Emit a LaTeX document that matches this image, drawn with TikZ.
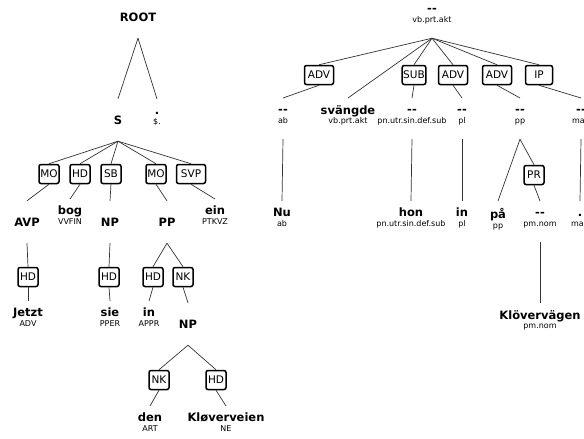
\documentclass[tikz,border=0pt]{standalone}
\usepackage{fontspec}
\setmainfont{DejaVu Sans}
\usepackage{tikz}
\usetikzlibrary{arrows.meta,shapes,arrows}

\newcommand{\wrd}[1]{{\fontsize{11.5}{13}\selectfont\bfseries\vphantom{bg}#1}}

\begin{document}
\begin{tikzpicture}[x=1pt,y=-1pt]
      \useasboundingbox (0,0) rectangle (584,439);
      % phrase labels
      \begin{scope}[every node/.style={inner sep=0pt,minimum height=42pt,font=\fontsize{11.5}{13}\selectfont\bfseries}]
        \node (root) at (138,17)  {ROOT};
        \node (s)    at (118,120) {S};
        \node (avp)  at (27,222)  {AVP};
        \node (np)   at (110,222) {NP};
        \node (pp)   at (167,222) {PP};
        \node (npb)  at (188,324) {NP};
      \end{scope}
      % words and tags
      \begin{scope}[every node/.style={anchor=north,align=center,inner xsep=0pt,inner ysep=7pt,text depth=8.5pt,font=\fontsize{8}{9.6}\selectfont}]
        \node (dot)   at (157,99)  {\wrd{.}\\\$.};
        \node (bog)   at (70,199)  {\wrd{bog}\\VVFIN};
        \node (ein)   at (215,199) {\wrd{ein}\\PTKVZ};
        \node (jetzt) at (28,301)  {\wrd{Jetzt}\\ADV};
        \node (sie)   at (110,301) {\wrd{sie}\\PPER};
        \node (in)    at (149,301) {\wrd{in}\\APPR};
        \node (den)   at (150,406) {\wrd{den}\\ART};
        \node (klo)   at (226,406) {\wrd{Kløverveien}\\NE};
        \node (top)   at (432,-3)  {\wrd{-{}-}\\vb.prt.akt};
        \node (ab)    at (283,98)  {\wrd{-{}-}\\ab};
        \node (sv)    at (348,98)  {\wrd{svängde}\\vb.prt.akt};
        \node (pn)    at (412,98)  {\wrd{-{}-}\\pn.utr.sin.def.sub};
        \node (pl)    at (462,98)  {\wrd{-{}-}\\pl};
        \node (ppn)   at (520,98)  {\wrd{-{}-}\\pp};
        \node (mad)   at (581,98)  {\wrd{-{}-}\\mad};
        \node (nu)    at (282,201) {\wrd{Nu}\\ab};
        \node (hon)   at (411,201) {\wrd{hon}\\pn.utr.sin.def.sub};
        \node (inb)   at (462,201) {\wrd{in}\\pl};
        \node (pa)    at (498,201) {\wrd{på}\\pp};
        \node (pm)    at (540,201) {\wrd{-{}-}\\pm.nom};
        \node (dotb)  at (580,201) {\wrd{.}\\mad};
        \node (klov)  at (540,303) {\wrd{Klövervägen}\\pm.nom};
      \end{scope}
      % edge labels
      \begin{scope}[every node/.style={draw,rounded corners=2pt,line width=1.5pt,inner xsep=1pt,inner ysep=0pt,
          minimum width=20pt,minimum height=19pt,font=\fontsize{10.5}{12}\selectfont}]
        \node (mo1)  at (49,174)  {MO};
        \node (hd1)  at (80,174)  {HD};
        \node (sb)   at (111,174) {SB};
        \node (mo2)  at (156,174) {MO};
        \node[minimum width=29pt] (svp) at (191,174) {SVP};
        \node (hd2)  at (28,277)  {HD};
        \node (hd3)  at (109,277) {HD};
        \node (hd4)  at (153,277) {HD};
        \node (nk1)  at (183,277) {NK};
        \node (nk2)  at (159,380) {NK};
        \node (hd5)  at (216,380) {HD};
        \node[minimum width=29pt] (adv1) at (319,75) {ADV};
        \node (sub)  at (414,75)  {SUB};
        \node[minimum width=29pt] (adv2) at (453,75) {ADV};
        \node[minimum width=29pt] (adv3) at (497,75) {ADV};
        \node[minimum width=27pt] (ip)   at (539,75) {IP};
        \node (pr)   at (534,175) {PR};
      \end{scope}
      \begin{scope}[every edge/.style={draw=black!80,line width=0.7pt}]
        \path (root.south) edge (s.north);    \path (root.south) edge (dot.north);
        \path (s.south) edge (mo1.north);     \path (s.south) edge (hd1.north);
        \path (s.south) edge (sb.north);      \path (s.south) edge (mo2.north);
        \path (s.south) edge (svp.north);
        \path (mo1.south) edge (avp.north);   \path (hd1.south) edge (bog.north);
        \path (sb.south) edge (np.north);     \path (mo2.south) edge (pp.north);
        \path (svp.south) edge (ein.north);
        \path (avp.south) edge (hd2.north);   \path (hd2.south) edge (jetzt.north);
        \path (np.south) edge (hd3.north);    \path (hd3.south) edge (sie.north);
        \path (pp.south) edge (hd4.north);    \path (pp.south) edge (nk1.north);
        \path (hd4.south) edge (in.north);    \path (nk1.south) edge (npb.north);
        \path (npb.south) edge (nk2.north);   \path (npb.south) edge (hd5.north);
        \path (nk2.south) edge (den.north);   \path (hd5.south) edge (klo.north);
        \path (top.south) edge (adv1.north);  \path (top.south) edge (sv.north);
        \path (top.south) edge (sub.north);   \path (top.south) edge (adv2.north);
        \path (top.south) edge (adv3.north);  \path (top.south) edge (ip.north);
        \path (adv1.south) edge (ab.north);   \path (sub.south) edge (pn.north);
        \path (adv2.south) edge (pl.north);   \path (adv3.south) edge (ppn.north);
        \path (ip.south) edge (mad.north);
        \path (ab.south) edge (nu.north);     \path (pn.south) edge (hon.north);
        \path (pl.south) edge (inb.north);    \path (ppn.south) edge (pa.north);
        \path (ppn.south) edge (pr.north);    \path (pr.south) edge (pm.north);
        \path (mad.south) edge (dotb.north);  \path (pm.south) edge (klov.north);
      \end{scope}
    \end{tikzpicture}
\end{document}
